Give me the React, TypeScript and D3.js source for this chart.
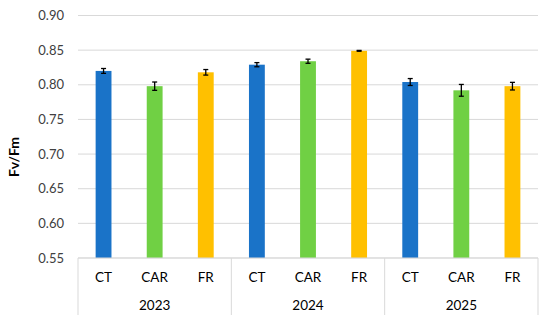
import React, { useEffect, useRef } from 'react'
import * as d3 from 'd3'

const years = ['2023', '2024', '2025']
const treatments = ['CT', 'CAR', 'FR']
const means = [
  [0.820, 0.798, 0.818],
  [0.829, 0.834, 0.849],
  [0.804, 0.792, 0.798],
]
const errors = [
  [0.0035, 0.006, 0.004],
  [0.003, 0.003, 0.0006],
  [0.005, 0.0085, 0.0055],
]
const yTicks = [0.55, 0.6, 0.65, 0.7, 0.75, 0.8, 0.85, 0.9]
const colors: Record<string, string> = { CT: '#1a73c8', CAR: '#70d044', FR: '#ffc000' }

const W = 550
const H = 324
const m = { left: 78, right: 12, top: 15.5, bottom: 66 }

const App = () => {
  const ref = useRef<SVGSVGElement>(null)

  useEffect(() => {
    const svg = d3.select(ref.current)
    svg.selectAll('*').remove()
    const font = 'Lato, "Open Sans", sans-serif'
    const plotW = W - m.left - m.right
    const plotB = H - m.bottom

    const rows = years.flatMap((yr, i) =>
      treatments.map((t, j) => ({ key: yr + '-' + t, year: yr, t, v: means[i][j], e: errors[i][j] }))
    )

    const x = d3.scaleBand().domain(rows.map((d) => d.key)).range([m.left, m.left + plotW]).paddingInner(0.69).paddingOuter(0.345)
    const xYear = d3.scaleBand().domain(years).range([m.left, m.left + plotW])
    const y = d3.scaleLinear().domain([0.55, 0.9]).range([plotB, m.top])

    // gridlines
    svg.append('g')
      .selectAll('line')
      .data(yTicks)
      .join('line')
      .attr('x1', m.left)
      .attr('x2', m.left + plotW)
      .attr('y1', (d) => y(d))
      .attr('y2', (d) => y(d))
      .attr('stroke', '#d9d9d9')
      .attr('stroke-width', 1)

    // y tick labels
    svg.append('g')
      .selectAll('text')
      .data(yTicks)
      .join('text')
      .attr('x', 64)
      .attr('y', (d) => y(d))
      .attr('dy', '0.35em')
      .attr('text-anchor', 'end')
      .attr('font-family', font)
      .attr('font-size', 13)
      .attr('fill', '#404040')
      .text((d) => d3.format('.2f')(d))

    // y axis title
    svg.append('text')
      .attr('transform', `translate(14,157) rotate(-90)`)
      .attr('text-anchor', 'middle')
      .attr('dy', '0.35em')
      .attr('font-family', font)
      .attr('font-size', 14)
      .attr('font-weight', 'bold')
      .attr('fill', '#000')
      .text('Fv/Fm')

    // bars
    svg.append('g')
      .selectAll('rect')
      .data(rows)
      .join('rect')
      .attr('x', (d) => x(d.key)!)
      .attr('width', x.bandwidth())
      .attr('y', (d) => y(d.v))
      .attr('height', (d) => plotB - y(d.v))
      .attr('fill', (d) => colors[d.t])

    // error bars
    const eb = svg.append('g').attr('stroke', '#000').attr('stroke-width', 1.3)
    rows.forEach((d) => {
      const cx = x(d.key)! + x.bandwidth() / 2
      const y1 = y(d.v + d.e)
      const y2 = y(d.v - d.e)
      eb.append('line').attr('x1', cx).attr('x2', cx).attr('y1', y1).attr('y2', y2)
      eb.append('line').attr('x1', cx - 2.5).attr('x2', cx + 2.5).attr('y1', y1).attr('y2', y1)
      eb.append('line').attr('x1', cx - 2.5).attr('x2', cx + 2.5).attr('y1', y2).attr('y2', y2)
    })

    // bottom axis line + separators
    svg.append('line')
      .attr('x1', m.left).attr('x2', m.left + plotW)
      .attr('y1', plotB).attr('y2', plotB)
      .attr('stroke', '#d9d9d9').attr('stroke-width', 1)
    const seps = [...years.map((yr) => xYear(yr)!), m.left + plotW]
    svg.append('g')
      .selectAll('line')
      .data(seps)
      .join('line')
      .attr('x1', (d) => d).attr('x2', (d) => d)
      .attr('y1', plotB).attr('y2', 315)
      .attr('stroke', '#d9d9d9').attr('stroke-width', 1)

    // category labels
    svg.append('g')
      .selectAll('text')
      .data(rows)
      .join('text')
      .attr('x', (d) => x(d.key)! + x.bandwidth() / 2)
      .attr('y', 277)
      .attr('dy', '0.35em')
      .attr('text-anchor', 'middle')
      .attr('font-family', font)
      .attr('font-size', 13.5)
      .attr('fill', '#000')
      .text((d) => d.t)

    // year labels
    svg.append('g')
      .selectAll('text')
      .data(years)
      .join('text')
      .attr('x', (d) => xYear(d)! + xYear.bandwidth() / 2)
      .attr('y', 305.5)
      .attr('dy', '0.35em')
      .attr('text-anchor', 'middle')
      .attr('font-family', font)
      .attr('font-size', 13.5)
      .attr('fill', '#000')
      .text((d) => d)
  })

  return (
    <svg ref={ref} width={W} height={H} style={{ position: 'absolute', left: 0, top: 0, background: '#fff' }} />
  )
}

export default App
